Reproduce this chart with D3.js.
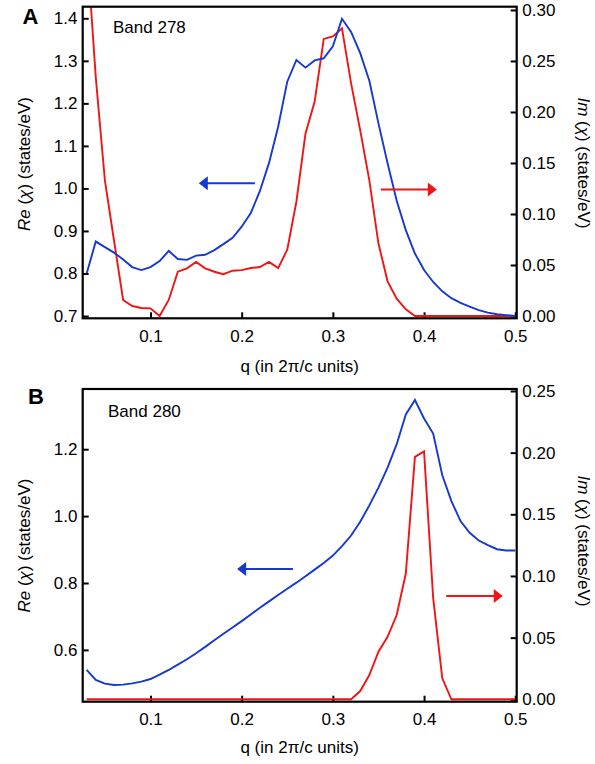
<!DOCTYPE html>
<html><head><meta charset="utf-8">
<script src="https://cdn.jsdelivr.net/npm/d3@7"></script>
<style>
html,body{margin:0;padding:0;background:#fff;}
svg text{font-family:"Liberation Sans",Arial,Helvetica,sans-serif;}
</style></head>
<body><svg id="chart" width="595" height="764"></svg>
<script>
// ---------- DATA ----------
const qGrid = [0.03,0.04,0.05,0.06,0.07,0.08,0.09,0.10,0.11,0.12,0.13,0.14,0.15,0.16,0.17,0.18,0.19,0.20,
  0.21,0.22,0.23,0.24,0.25,0.26,0.27,0.28,0.29,0.30,0.31,0.32,0.33,0.34,0.35,0.36,0.37,0.38,0.39,0.40,
  0.41,0.42,0.43,0.44,0.45,0.46,0.47,0.48,0.49,0.50];

// Panel A, Band 278
const reA = [0.800,0.875,0.862,0.849,0.833,0.815,0.808,0.815,0.829,0.853,0.834,0.832,0.842,0.844,0.855,0.869,0.884,0.910,
  0.942,0.994,1.060,1.145,1.251,1.302,1.284,1.301,1.306,1.334,1.399,1.368,1.318,1.253,1.153,1.059,0.971,0.902,0.847,0.808,
  0.780,0.758,0.742,0.731,0.722,0.714,0.708,0.704,0.702,0.700];
const imA = [0.365,0.234,0.133,0.074,0.0157,0.0098,0.0078,0.0075,0.000,0.0157,0.0434,0.0467,0.053,0.0467,0.0434,0.041,0.0444,0.045,
  0.047,0.048,0.053,0.047,0.065,0.112,0.179,0.210,0.2716,0.274,0.282,0.228,0.182,0.133,0.071,0.034,0.017,0.0066,0,0,
  0,0,0,0,0,0,0,0,0,0];

// Panel B, Band 280
const reB = [0.540,0.510,0.499,0.495,0.496,0.500,0.505,0.513,0.526,0.540,0.556,0.572,0.590,0.609,0.629,0.648,0.667,0.686,
  0.706,0.726,0.745,0.764,0.783,0.801,0.820,0.840,0.860,0.882,0.910,0.942,0.983,1.032,1.085,1.145,1.215,1.304,1.347,1.292,
  1.247,1.122,1.045,0.985,0.950,0.927,0.913,0.901,0.897,0.897];
const imB = [0,0,0,0,0,0,0,0,0,0,0,0,0,0,0,0,0,0,
  0,0,0,0,0,0,0,0,0,0,0,0,0.0067,0.0197,0.0386,0.0507,0.0683,0.102,0.1966,0.201,
  0.082,0.017,0,0,0,0,0,0,0,0];

// Tick values
const xTicks = [0.1,0.2,0.3,0.4,0.5];
const reATicks = [0.7,0.8,0.9,1.0,1.1,1.2,1.3,1.4];
const imATicks = [0,0.05,0.10,0.15,0.20,0.25,0.30];
const reBTicks = [0.6,0.8,1.0,1.2];
const imBTicks = [0,0.05,0.10,0.15,0.20,0.25];

// Panel labels / annotations (data space)
const panelLetters = ["A","B"];
const bandNames = ["Band 278","Band 280"];
const xTitle = "q (in 2\u03C0/c units)";

// ---------- DRAW ----------
const BLUE = "#1538d0", RED = "#f21414";
const svg = d3.select("#chart");
const L = 82.7, R = 516.7;
const FS = 17;

const panels = [
  {id:"A", top:6.7, bottom:318.3, reDom:[0.6946,1.4273], imDom:[-0.00225,0.3032],
   re:reA, im:imA, reTicks:reATicks, imTicks:imATicks, reFmt:d3.format(".1f"), imFmt:d3.format(".2f"),
   letter:panelLetters[0], letterX:22.5, letterY:23.5, band:bandNames[0], bandX:113, bandY:33,
   blueArrow:{from:[0.2145,1.012], to:[0.153,1.012]}, redArrow:{from:[0.3526,0.124], to:[0.414,0.124]},
   titleY:371.5, leftTitleC:164, rightTitleC:163},
  {id:"B", top:389, bottom:701.7, reDom:[0.4451,1.38], imDom:[-0.00195,0.2516],
   re:reB, im:imB, reTicks:reBTicks, imTicks:imBTicks, reFmt:d3.format(".1f"), imFmt:d3.format(".2f"),
   letter:panelLetters[1], letterX:28, letterY:403.5, band:bandNames[1], bandX:108, bandY:417,
   blueArrow:{from:[0.2562,0.842], to:[0.195,0.842]}, redArrow:{from:[0.4243,0.0838], to:[0.4863,0.0838]},
   titleY:753, leftTitleC:545.5, rightTitleC:541}
];

const x = d3.scaleLinear().domain([0.02567,0.5016]).range([L,R]);

panels.forEach((p,i)=>{
  const yRe = d3.scaleLinear().domain(p.reDom).range([p.bottom,p.top]);
  const yIm = d3.scaleLinear().domain(p.imDom).range([p.bottom,p.top]);
  const g = svg.append("g");

  const clipId = "clip"+p.id;
  svg.append("clipPath").attr("id",clipId).append("rect")
    .attr("x",L).attr("y",p.top).attr("width",R-L).attr("height",p.bottom-p.top);

  // axes
  const ax = g.append("g").attr("transform",`translate(0,${p.bottom})`)
    .call(d3.axisBottom(x).tickValues(xTicks).tickFormat(d3.format(".1f")).tickSizeInner(-6).tickSizeOuter(0).tickPadding(11.4));
  const ayl = g.append("g").attr("transform",`translate(${L},0)`)
    .call(d3.axisLeft(yRe).tickValues(p.reTicks).tickFormat(p.reFmt).tickSizeInner(-6).tickSizeOuter(0).tickPadding(5.2));
  const ayr = g.append("g").attr("transform",`translate(${R},0)`)
    .call(d3.axisRight(yIm).tickValues(p.imTicks).tickFormat(p.imFmt).tickSizeInner(-6).tickSizeOuter(0).tickPadding(5.6));
  [ax,ayl,ayr].forEach(a=>{
    a.select(".domain").remove();
    a.selectAll(".tick line").attr("stroke","#000").attr("stroke-width",2);
    a.selectAll(".tick text").attr("font-size",FS).attr("fill","#000")
      .style("font-family","'Liberation Sans',Arial,sans-serif");
  });

  // lines
  const lineRe = d3.line().x((d,k)=>x(qGrid[k])).y(d=>yRe(d));
  const lineIm = d3.line().x((d,k)=>x(qGrid[k])).y(d=>yIm(d));
  g.append("path").datum(p.im).attr("d",lineIm).attr("fill","none").attr("stroke",RED)
    .attr("stroke-width",1.9).attr("clip-path",`url(#${clipId})`);
  g.append("path").datum(p.re).attr("d",lineRe).attr("fill","none").attr("stroke",BLUE)
    .attr("stroke-width",1.9).attr("clip-path",`url(#${clipId})`);

  // frame
  g.append("rect").attr("x",L).attr("y",p.top).attr("width",R-L).attr("height",p.bottom-p.top)
    .attr("fill","none").attr("stroke","#000").attr("stroke-width",2.2);

  // arrows
  function arrow(a, yS, col){
    const x1=x(a.from[0]), y1=yS(a.from[1]), x2=x(a.to[0]), y2=yS(a.to[1]);
    const dir = Math.sign(x2-x1);
    const hl = 9, hw = 7;
    g.append("line").attr("x1",x1).attr("y1",y1).attr("x2",x2-dir*hl*0.6).attr("y2",y2)
      .attr("stroke",col).attr("stroke-width",2);
    g.append("path").attr("d",`M${x2},${y2}L${x2-dir*hl},${y2-hw}L${x2-dir*hl},${y2+hw}Z`).attr("fill",col);
  }
  arrow(p.blueArrow, yRe, BLUE);
  arrow(p.redArrow, yIm, RED);

  // texts
  svg.append("text").attr("x",p.letterX).attr("y",p.letterY).attr("font-size",22).attr("font-weight","bold").text(p.letter);
  svg.append("text").attr("x",p.bandX).attr("y",p.bandY).attr("font-size",FS).text(p.band);
  svg.append("text").attr("x",(L+R)/2).attr("y",p.titleY).attr("text-anchor","middle").attr("font-size",FS).text(xTitle);

  const lt = svg.append("text").attr("transform",`translate(29.7,${p.leftTitleC}) rotate(-90)`)
    .attr("text-anchor","middle").attr("font-size",FS);
  lt.append("tspan").attr("font-style","italic").text("Re");
  lt.append("tspan").text(" (");
  lt.append("tspan").attr("font-style","italic").text("\u03C7");
  lt.append("tspan").text(") (states/eV)");

  const rt = svg.append("text").attr("transform",`translate(577.5,${p.rightTitleC}) rotate(90)`)
    .attr("text-anchor","middle").attr("font-size",FS);
  rt.append("tspan").attr("font-style","italic").text("Im");
  rt.append("tspan").text(" (");
  rt.append("tspan").attr("font-style","italic").text("\u03C7");
  rt.append("tspan").text(") (states/eV)");
});
</script></body></html>
